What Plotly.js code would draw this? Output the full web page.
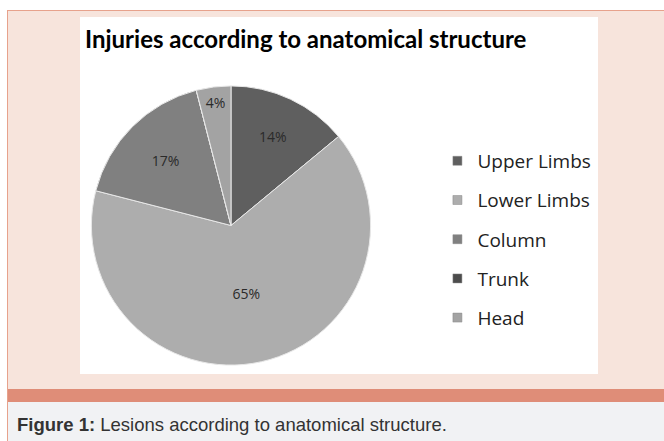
<!DOCTYPE html>
<html>
<head>
<meta charset="utf-8">
<script src="https://cdn.plot.ly/plotly-3.0.1.min.js"></script>
<style>
  html, body { margin:0; padding:0; width:664px; height:441px; background:#ffffff; overflow:hidden; }
  #panel { position:absolute; left:7px; top:10px; width:657px; height:378px; background:#f7e4dc;
           border-top:1px solid #e7a28c; border-left:1px solid #e7a28c; }
  #band { position:absolute; left:7px; top:389px; width:657px; height:13px; background:#df8d78; border-left:1px solid #e7a28c; }
  #cap { position:absolute; left:7px; top:402px; width:657px; height:39px; background:#f1f2f4; border-left:1px solid #e7a28c; }
  #captext { position:absolute; left:9px; top:12px; font-family:"Liberation Sans",Arial,sans-serif;
             font-size:18.5px; color:#333333; white-space:nowrap; }
  #chart { position:absolute; left:80px; top:17px; width:518px; height:357px; background:#ffffff; }
</style>
</head>
<body>
<div id="panel"></div>
<div id="band"></div>
<div id="cap"><div id="captext"><b>Figure 1:</b> Lesions according to anatomical structure.</div></div>
<div id="chart"></div>
<script>
const chartTitle = "Injuries according to anatomical structure";
const categories = ["Upper Limbs", "Lower Limbs", "Column", "Trunk", "Head"];
const values = [14, 65, 17, 0, 4];
const colors = ["#5f5f5f", "#adadad", "#808080", "#4c4c4c", "#a3a3a3"];

const pieText = values.map(v => v > 0 ? v + "%" : "");

const data = [{
  type: "pie",
  labels: categories,
  values: values,
  text: pieText,
  textinfo: "text",
  textposition: "inside",
  insidetextorientation: "horizontal",
  textfont: { family: "Open Sans, sans-serif", size: 14, color: "#2a2a2a" },
  marker: { colors: colors, line: { color: "#e8e8e8", width: 1 } },
  sort: false,
  direction: "clockwise",
  rotation: 0,
  showlegend: false,
  hoverinfo: "label+percent",
  domain: { x: [0.0212, 0.5618], y: [0.025, 0.807] }
}];

// legend entries (one per category) so the legend spacing matches the original
categories.forEach((c, i) => {
  data.push({
    type: "scatter", mode: "markers", x: [null], y: [null],
    name: c, legendgroup: "g" + i,
    marker: { symbol: "square", size: 9, color: colors[i], line: { color: "#888", width: 0.5 } },
    hoverinfo: "skip", showlegend: true
  });
});

const layout = {
  width: 518, height: 357,
  margin: { l: 0, r: 0, t: 0, b: 0 },
  paper_bgcolor: "#ffffff", plot_bgcolor: "#ffffff",
  title: { text: "<b>" + chartTitle + "</b>", x: 5/518, xanchor: "left", xref: "paper",
           y: 1 - 23/357, yanchor: "middle", yref: "paper",
           font: { family: "Lato, sans-serif", size: 24, color: "#000000" } },
  xaxis: { visible: false }, yaxis: { visible: false },
  legend: { x: 0.69, y: 0.65, xanchor: "left", yanchor: "top", bgcolor: "rgba(0,0,0,0)",
            tracegroupgap: 11.5, traceorder: "grouped",
            font: { family: "Open Sans, sans-serif", size: 19, color: "#222222" } },
  showlegend: true
};

Plotly.newPlot("chart", data, layout, { displayModeBar: false, staticPlot: true });
</script>
</body>
</html>
